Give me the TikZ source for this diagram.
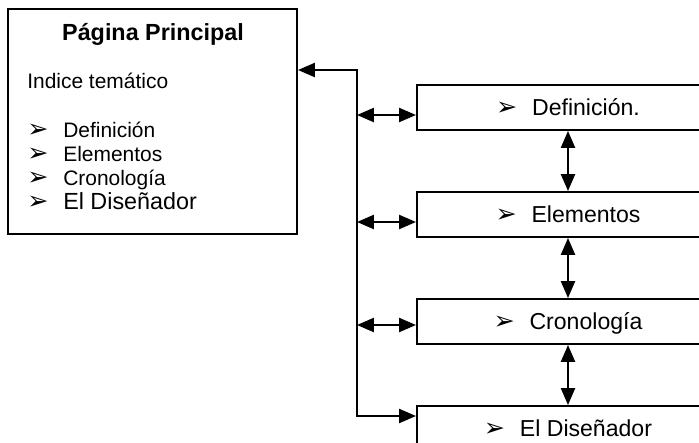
\documentclass[tikz,border=0pt]{standalone}
\usepackage{fontspec}
\setmainfont{Liberation Sans}
\newfontfamily\dingfont{DejaVu Sans}
\usetikzlibrary{arrows.meta,positioning}

\newcommand{\flecha}{\makebox[25.6pt][l]{\dingfont\fontsize{18}{18}\selectfont ➢}}

\begin{document}
\begin{tikzpicture}[
    x=0.025cm, y=-0.025cm,
    box/.style={draw, line width=1.4pt, rectangle},
    seccion/.style={box, minimum width=7.55cm, minimum height=1.125cm, inner sep=0pt,
        text height=11.7pt, text depth=0pt, font=\fontsize{16.4}{18}\selectfont},
    item/.style={anchor=base west, inner sep=0pt, font=\fontsize{14.9}{17}\selectfont},
    dbl/.style={line width=1.4pt, {Triangle[length=12pt,width=10pt]}-{Triangle[length=12pt,width=10pt]}}
]
\useasboundingbox (0,0) rectangle (699,442);
\clip (0,0) rectangle (699,442);

% Pagina principal
\node[box, minimum width=7.225cm, minimum height=5.625cm] (main) at (152.5,121.5) {};
\node[anchor=base, inner sep=0pt, font=\bfseries\fontsize{16.6}{18}\selectfont] (titulo) at (153,40) {Página Principal};
\node[item] (indice) at (27,88) {Indice temático};
% la base del nodo es la ultima linea
\node[item, align=left] (lista) at (27,209) {\flecha Definición\\
    \flecha Elementos\\
    \flecha Cronología\\
    {\fontsize{16.6}{18}\selectfont\flecha El Diseñador}};

% Secciones
\node[seccion] (def) at (568,107.5) {\flecha Definición.};
\node[seccion, below=1.5cm of def] (elem) {\flecha Elementos};
\node[seccion, below=1.5cm of elem] (crono) {\flecha Cronología};
\node[seccion, below=1.5cm of crono] (disen) {\flecha El Diseñador};

% Enlaces
\coordinate (bus) at (357,70);
\coordinate (b1) at (357,115);
\coordinate (b2) at (357,222);
\coordinate (b3) at (357,325);
\coordinate (b4) at (357,416);

\draw[dbl] (main.east |- bus) -- (bus) -- (b4) -- (b4 -| disen.west);
\foreach \s/\c in {def/b1, elem/b2, crono/b3}
    \draw[dbl] (\c) -- (\c -| \s.west);

\draw[dbl] (def) -- (elem);
\draw[dbl] (elem) -- (crono);
\draw[dbl] (crono) -- (disen);

\end{tikzpicture}
\end{document}
